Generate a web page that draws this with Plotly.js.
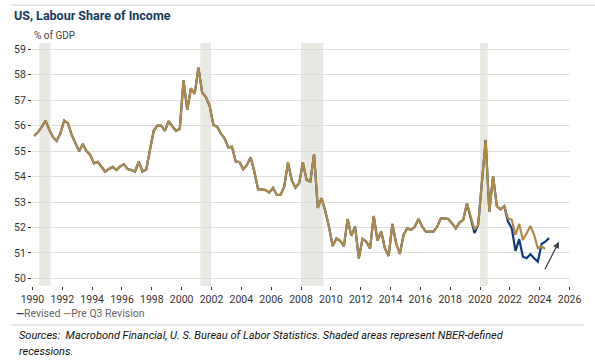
<!DOCTYPE html>
<html>
<head>
<meta charset="utf-8">
<script src="https://cdn.plot.ly/plotly-3.0.1.min.js"></script>
<style>
  html, body { margin: 0; padding: 0; background: #ffffff; }
  #chart { width: 595px; height: 362px; }
</style>
</head>
<body>
<div id="chart"></div>
<script>
// Quarterly data, first quarter = 1990Q1
const startYear = 1990;

const revised = [
  55.60, 55.75, 55.95, 56.20,
  55.85, 55.55, 55.40, 55.70,
  56.20, 56.10, 55.65, 55.30,
  55.00, 55.28, 55.00, 54.85,
  54.52, 54.58, 54.40, 54.19,
  54.30, 54.38, 54.26, 54.40,
  54.48, 54.30, 54.26, 54.19,
  54.59, 54.20, 54.28, 55.10,
  55.80, 56.00, 56.00, 55.80,
  56.18, 55.98, 55.80, 55.88,
  57.78, 56.63, 57.47, 57.25,
  58.28, 57.30, 57.12, 56.78,
  56.03, 55.96, 55.70, 55.50,
  55.15, 55.17, 54.59, 54.57,
  54.29, 54.46, 54.76, 54.19,
  53.50, 53.50, 53.47, 53.37,
  53.56, 53.28, 53.28, 53.60,
  54.55, 53.87, 53.56, 53.74,
  54.56, 53.87, 53.80, 54.88,
  52.77, 53.15, 52.66, 52.03,
  51.27, 51.57, 51.48, 51.27,
  52.33, 51.67, 52.03, 50.79,
  51.55, 51.44, 51.18, 52.45,
  51.48, 51.84, 51.18, 50.88,
  52.14, 51.38, 50.96, 51.71,
  51.97, 51.90, 52.03, 52.33,
  52.03, 51.84, 51.84, 51.84,
  52.03, 52.36, 52.36, 52.33,
  52.16, 51.97, 52.19, 52.30,
  52.95, 52.42, 51.78, 52.10,
  53.75, 55.44, 52.62, 54.02,
  52.84, 52.71, 52.84, 52.23,
  51.97, 51.08, 51.54, 50.85,
  50.79, 50.95, 50.79, 50.66,
  51.35, 51.44, 51.58
];

const preQ3 = [
  55.60, 55.75, 55.95, 56.20,
  55.85, 55.55, 55.40, 55.70,
  56.20, 56.10, 55.65, 55.30,
  55.00, 55.28, 55.00, 54.85,
  54.52, 54.58, 54.40, 54.19,
  54.30, 54.38, 54.26, 54.40,
  54.48, 54.30, 54.26, 54.19,
  54.59, 54.20, 54.28, 55.10,
  55.80, 56.00, 56.00, 55.80,
  56.18, 55.98, 55.80, 55.88,
  57.78, 56.63, 57.47, 57.25,
  58.28, 57.30, 57.12, 56.78,
  56.03, 55.96, 55.70, 55.50,
  55.15, 55.17, 54.59, 54.57,
  54.29, 54.46, 54.76, 54.19,
  53.50, 53.50, 53.47, 53.37,
  53.56, 53.28, 53.28, 53.60,
  54.55, 53.87, 53.56, 53.74,
  54.56, 53.87, 53.80, 54.88,
  52.77, 53.15, 52.66, 52.03,
  51.27, 51.57, 51.48, 51.27,
  52.33, 51.67, 52.03, 50.79,
  51.55, 51.44, 51.18, 52.45,
  51.48, 51.84, 51.18, 50.88,
  52.14, 51.38, 50.96, 51.71,
  51.97, 51.90, 52.03, 52.33,
  52.03, 51.84, 51.84, 51.84,
  52.03, 52.36, 52.36, 52.33,
  52.16, 51.97, 52.19, 52.30,
  52.95, 52.42, 51.92, 52.10,
  53.75, 55.44, 52.62, 54.02,
  52.84, 52.71, 52.84, 52.36,
  52.30, 51.71, 52.14, 51.51,
  51.77, 52.06, 51.71, 51.18,
  51.25, 51.16
];

// NBER recessions [start, end] in decimal years
const recessionStarts = [1990.46, 2001.25, 2008.0, 2020.0];
const recessionEnds   = [1991.21, 2001.97, 2009.5, 2020.52];

const xTickVals = [1990,1992,1994,1996,1998,2000,2002,2004,2006,2008,2010,2012,2014,2016,2018,2020,2022,2024,2026];
const yTickVals = [50,51,52,53,54,55,56,57,58,59];

const seriesNames = ["Revised", "Pre Q3 Revision"];
const seriesColors = ["#0b3c7d", "#b08a48"];

function quarterX(n) {
  const out = [];
  for (let i = 0; i < n; i++) out.push(startYear + (i + 0.5) / 4);
  return out;
}

const traces = [
  { x: quarterX(revised.length), y: revised, name: seriesNames[0], type: "scatter", mode: "lines",
    line: { color: seriesColors[0], width: 2.2 }, showlegend: false, hoverinfo: "x+y" },
  { x: quarterX(preQ3.length), y: preQ3, name: seriesNames[1], type: "scatter", mode: "lines",
    line: { color: seriesColors[1], width: 2.2 }, showlegend: false, hoverinfo: "x+y" }
];

const shapes = recessionStarts.map((s, i) => ({
  type: "rect", xref: "x", yref: "paper", x0: s, x1: recessionEnds[i], y0: 0, y1: 1,
  fillcolor: "#e9e9e3", line: { width: 0 }, layer: "below"
}));
// separator lines
shapes.push({ type: "line", xref: "paper", yref: "paper", x0: -0.038, x1: 1.05, y0: 1.156, y1: 1.156,
  line: { color: "#cccccc", width: 1 } });
shapes.push({ type: "line", xref: "paper", yref: "paper", x0: -0.038, x1: 1.025, y0: -0.1605, y1: -0.1605,
  line: { color: "#cfcfcf", width: 1 } });

const annotations = [
  { xref: "paper", yref: "paper", x: -0.0372, y: 1.114, xanchor: "left", yanchor: "middle",
    text: "<b>US, Labour Share of Income</b>", showarrow: false,
    font: { family: "Roboto, sans-serif", size: 12.5, color: "#123a5e" } },
  { xref: "paper", yref: "paper", x: 0.0, y: 1.03, xanchor: "left", yanchor: "middle",
    text: "% of GDP", showarrow: false,
    font: { family: "Roboto, sans-serif", size: 10, color: "#444444" } },
  { xref: "paper", yref: "paper", x: -0.0335, y: -0.1125, xanchor: "left", yanchor: "middle",
    text: '<span style="color:' + seriesColors[0] + '"><b>—</b></span>' + seriesNames[0] + ' <span style="color:' + seriesColors[1] + '"><b>—</b></span>' + seriesNames[1],
    showarrow: false, font: { family: "Roboto, sans-serif", size: 10.5, color: "#666666" } },
  { xref: "paper", yref: "paper", x: -0.0285, y: -0.2035, xanchor: "left", yanchor: "middle",
    text: "<i>Sources:  Macrobond Financial, U. S. Bureau of Labor Statistics. Shaded areas represent NBER-defined</i>",
    showarrow: false, font: { family: "Roboto, sans-serif", size: 11, color: "#111111" } },
  { xref: "paper", yref: "paper", x: -0.0285, y: -0.2695, xanchor: "left", yanchor: "middle",
    text: "<i>recessions.</i>",
    showarrow: false, font: { family: "Roboto, sans-serif", size: 11, color: "#111111" } },
  { xref: "x", yref: "y", axref: "x", ayref: "y", x: 2025.29, y: 51.44, ax: 2024.30, ay: 50.30,
    text: "", showarrow: true, arrowhead: 2, arrowsize: 1, arrowwidth: 1.3, arrowcolor: "#444444", standoff: 0 }
];

const layout = {
  width: 595, height: 362,
  margin: { l: 32, r: 25, t: 43, b: 76, pad: 0 },
  paper_bgcolor: "#ffffff", plot_bgcolor: "#ffffff",
  font: { family: "Roboto, sans-serif", size: 11, color: "#333333" },
  xaxis: {
    range: [1989.97, 2026.03], tickvals: xTickVals, ticktext: xTickVals.map(String),
    showgrid: false, zeroline: false, showline: false,
    ticks: "outside", ticklen: 3, tickwidth: 1, tickcolor: "#333333",
    tickfont: { family: "Roboto, sans-serif", size: 10.5, color: "#333333" }, fixedrange: true
  },
  yaxis: {
    range: [49.7, 59.25], tickvals: yTickVals, ticktext: yTickVals.map(String),
    showgrid: true, gridcolor: "#dedede", gridwidth: 1, zeroline: false, showline: false,
    ticks: "outside", ticklen: 3, tickwidth: 1, tickcolor: "#333333",
    tickfont: { family: "Roboto, sans-serif", size: 10.5, color: "#333333" }, fixedrange: true
  },
  shapes: shapes,
  annotations: annotations,
  showlegend: false
};

Plotly.newPlot("chart", traces, layout, { staticPlot: true, displayModeBar: false });
</script>
</body>
</html>
